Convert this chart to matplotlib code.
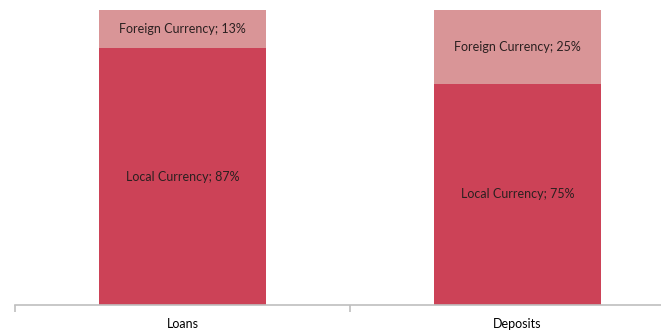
import matplotlib.pyplot as plt

# share of loans and deposits by currency (%)
categories = ["Loans", "Deposits"]
local_share = [87, 75]
foreign_share = [13, 25]

local_color = "#CC4257"
foreign_color = "#D99597"
text_color = "#2b2020"

plt.rcParams["font.family"] = ["Lato", "DejaVu Sans"]

fig = plt.figure(figsize=(6.61, 3.36), dpi=100)
ax = fig.add_axes([15 / 661, 31 / 336, 670 / 661, 295 / 336])

x = list(range(len(categories)))
ax.bar(x, local_share, width=0.5, color=local_color)
ax.bar(x, foreign_share, width=0.5, bottom=local_share, color=foreign_color)

# labels sit in the middle of each segment
for i in x:
    ax.text(i, local_share[i] / 2, f"Local Currency; {local_share[i]}%",
            ha="center", va="center", fontsize=9, color=text_color)
    ax.text(i, local_share[i] + foreign_share[i] / 2,
            f"Foreign Currency; {foreign_share[i]}%",
            ha="center", va="center", fontsize=9, color=text_color)

ax.set_xlim(-0.5, len(categories) - 0.5)
ax.set_ylim(0, 100)

for side in ["top", "right", "left"]:
    ax.spines[side].set_visible(False)
ax.spines["bottom"].set_color("#BFBFBF")
ax.spines["bottom"].set_linewidth(1.2)

ax.set_yticks([])
ax.set_xticks(x)
ax.set_xticklabels(categories, fontsize=9, color="black")
ax.tick_params(axis="x", which="major", length=0, pad=9)
ax.set_xticks([-0.5, 0.5, 1.5], minor=True)
ax.tick_params(axis="x", which="minor", length=5, color="#BFBFBF", width=1.2)

fig.savefig("out.png", dpi=100)
